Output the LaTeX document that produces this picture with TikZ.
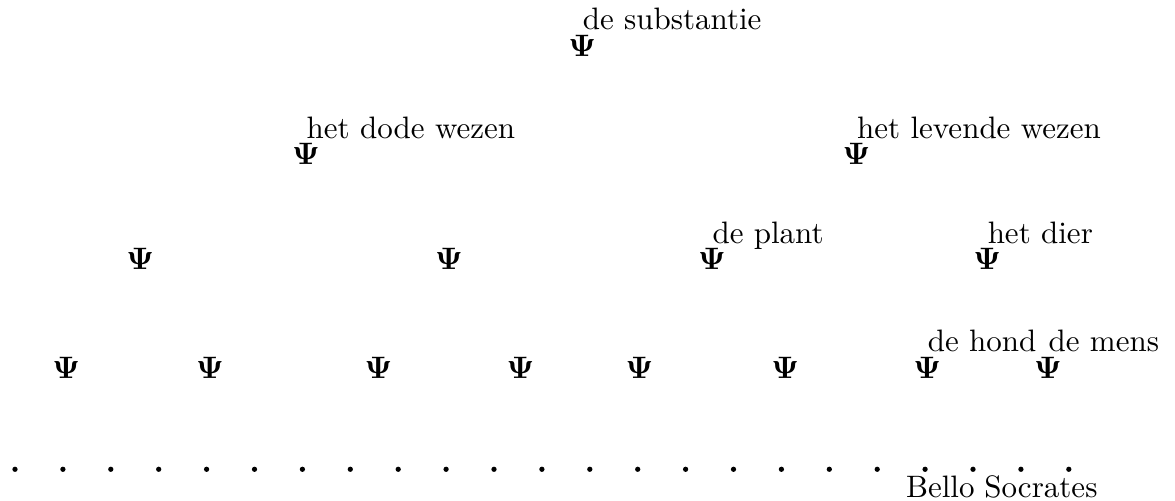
\documentclass[tikz,border=0pt]{standalone}
\usetikzlibrary{positioning}

\begin{document}
\begin{tikzpicture}[
  psi/.style={inner sep=0pt},
  lbl/.style={anchor=base west, inner sep=0pt, yshift=1.5pt},
  leaf/.style={circle, fill, inner sep=0pt, minimum size=1.7pt},
  indiv/.style={anchor=base, inner sep=0pt}
]
\useasboundingbox (0,0) rectangle (13.32,5.67);
% top
\node[psi] (subst) at (6.60,5.15) {$\mathbf{\Psi}$};
\node[lbl] (substl) at (subst.north) {de substantie};
% second row
\node[psi] (dood) at (3.47,3.92) {$\mathbf{\Psi}$};
\node[psi] (levend) at (9.71,3.92) {$\mathbf{\Psi}$};
\node[lbl] (doodl) at (dood.north) {het dode wezen};
\node[lbl] (levendl) at (levend.north) {het levende wezen};
% third row
\node[psi] (a1) at (1.59,2.73) {$\mathbf{\Psi}$};
\node[psi] (a2) at (5.09,2.73) {$\mathbf{\Psi}$};
\node[psi] (plant) at (8.07,2.73) {$\mathbf{\Psi}$};
\node[psi] (dier) at (11.19,2.73) {$\mathbf{\Psi}$};
\node[lbl] (plantl) at (plant.north) {de plant};
\node[lbl] (dierl) at (dier.north) {het dier};
% fourth row
\node[psi] (b1) at (0.75,1.50) {$\mathbf{\Psi}$};
\node[psi] (b2) at (2.38,1.50) {$\mathbf{\Psi}$};
\node[psi] (b3) at (4.29,1.50) {$\mathbf{\Psi}$};
\node[psi] (b4) at (5.90,1.50) {$\mathbf{\Psi}$};
\node[psi] (b5) at (7.25,1.50) {$\mathbf{\Psi}$};
\node[psi] (b6) at (8.90,1.50) {$\mathbf{\Psi}$};
\node[psi] (hond) at (10.51,1.50) {$\mathbf{\Psi}$};
\node[psi] (mens) at (11.88,1.50) {$\mathbf{\Psi}$};
\node[lbl] (hondl) at (hond.north) {de hond};
\node[lbl] (mensl) at (mens.north) {de mens};
% individuals
\foreach \i in {0,...,22}
  \node[leaf] (d\i) at ({0.17+0.543*\i},0.35) {};
\node[indiv] (bello) at (10.66,0.03) {Bello};
\node[indiv] (socrates) at (11.80,0.03) {Socrates};
\end{tikzpicture}
\end{document}
